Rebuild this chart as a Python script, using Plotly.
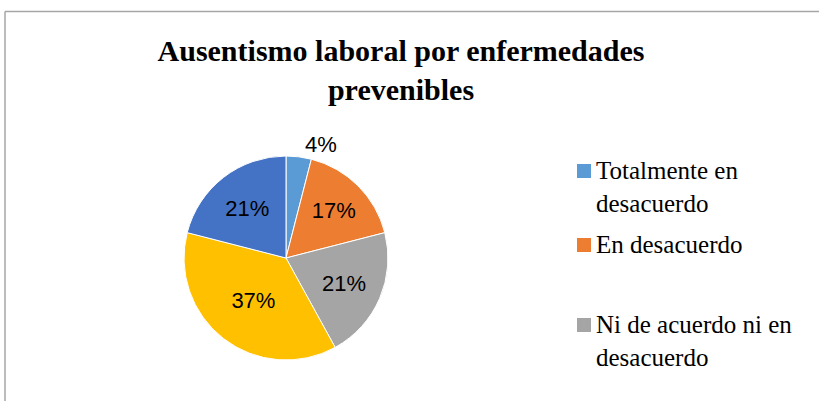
import plotly.graph_objects as go

# survey answers, clockwise from 12 o'clock
labels = ['Totalmente en desacuerdo', 'En desacuerdo', 'Ni de acuerdo ni en desacuerdo',
          'De acuerdo', 'Totalmente de acuerdo']
values = [4, 17, 21, 37, 21]
colors = ['#5B9BD5', '#ED7D31', '#A5A5A5', '#FFC000', '#4472C4']
# only the first three entries are visible in the (cropped) legend
legend_labels = ['Totalmente en<br>desacuerdo', 'En desacuerdo', 'Ni de acuerdo ni en<br>desacuerdo']

W, H = 819, 401

fig = go.Figure(go.Pie(labels=labels, values=values, sort=False, direction='clockwise', rotation=0,
                       marker=dict(colors=colors, line=dict(color='white', width=1)),
                       texttemplate='%{percent:.0%}', textinfo='percent',
                       textposition=['outside', 'inside', 'inside', 'inside', 'inside'],
                       insidetextorientation='horizontal',
                       textfont=dict(family='Liberation Sans', size=22, color='black'),
                       outsidetextfont=dict(family='Liberation Sans', size=22, color='black'),
                       domain=dict(x=[(286 - 102) / W, (286 + 102) / W],
                                   y=[(H - 258 - 102) / H, (H - 258 + 102) / H]),
                       showlegend=False, hoverinfo='label+percent'))

# hand-placed legend (entries are unevenly spaced in the original)
legend_y = [176, 250, 330]   # baseline of first line, px from top
for lab, col, yb in zip(legend_labels, colors, legend_y):
    fig.add_shape(type='rect', xref='paper', yref='paper',
                  x0=577 / W, x1=591 / W, y0=(H - yb - 2) / H, y1=(H - yb + 12) / H,
                  fillcolor=col, line=dict(width=0))
    fig.add_annotation(text=lab, xref='paper', yref='paper', x=594 / W, y=(H - yb + 21) / H,
                       xanchor='left', yanchor='top', align='left', showarrow=False,
                       font=dict(family='Liberation Serif', size=25, color='black'))

# chart frame (only top and left edges visible)
fig.add_shape(type='line', xref='paper', yref='paper', x0=5 / W, x1=1, y0=(H - 11.5) / H, y1=(H - 11.5) / H,
              line=dict(color='#A6A6A6', width=1.5))
fig.add_shape(type='line', xref='paper', yref='paper', x0=5 / W, x1=5 / W, y0=0, y1=(H - 11.5) / H,
              line=dict(color='#A6A6A6', width=1.5))

fig.update_layout(width=W, height=H, margin=dict(l=0, r=0, t=0, b=0),
                  paper_bgcolor='white', plot_bgcolor='white',
                  title=dict(text='<b>Ausentismo laboral por enfermedades<br>prevenibles</b>',
                             x=401 / W, xanchor='center', y=(H - 61) / H, yanchor='top',
                             font=dict(family='Liberation Serif', size=30, color='black')))

fig.write_html('out.html', config={'displayModeBar': False},
               post_script="document.body.style.margin='0';")
